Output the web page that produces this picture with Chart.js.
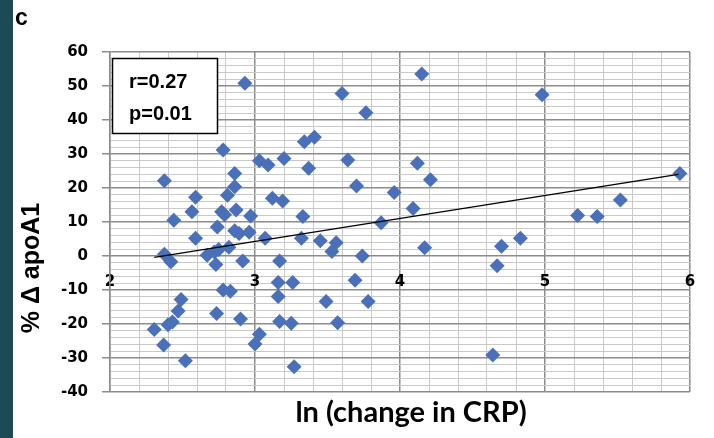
<!DOCTYPE html>
<html><head><meta charset="utf-8">
<script src="https://cdn.jsdelivr.net/npm/chart.js@4.4.1/dist/chart.umd.min.js"></script>
<style>
html,body{margin:0;padding:0;background:#fff;overflow:hidden;}
#wrap{position:relative;width:714px;height:438px;}
#strip{position:absolute;left:0;top:0;width:13px;height:438px;background:#1d4b55;}
canvas{position:absolute;left:0;top:0;}
</style></head><body>
<div id="wrap"><canvas id="c" width="714" height="438"></canvas><div id="strip"></div></div>
<script>
// ln(change in CRP)
const lnChangeCRP = [2.93, 2.78, 2.375, 3.03, 3.09, 3.20, 2.86, 2.86, 2.81, 2.59,
  3.12, 3.19, 2.565, 2.77, 2.79, 2.87, 2.97, 2.44, 2.74, 2.59,
  2.86, 2.89, 2.96, 3.07, 3.32, 2.375, 2.42, 2.67, 2.72, 2.75,
  2.73, 2.82, 2.915, 3.17, 3.16, 3.26, 3.16, 2.78, 2.83, 2.49,
  2.47, 2.735, 2.90, 3.17, 3.25, 2.305, 2.40, 2.43, 3.03, 3.00,
  2.37, 2.52, 3.27, 4.15, 3.60, 3.765, 3.34, 3.41, 3.37, 3.64,
  4.12, 4.21, 3.70, 3.96, 3.33, 4.09, 3.87, 3.45, 3.56, 3.53,
  3.74, 4.17, 3.69, 3.49, 3.78, 3.57, 4.98, 5.93, 5.52, 5.225,
  5.36, 4.83, 4.70, 4.67, 4.64];
// % delta apoA1
const pctDeltaApoA1 = [50.8, 31.2, 22.1, 28.0, 26.8, 28.7, 24.3, 20.4, 17.9, 17.3,
  17.0, 16.2, 13.0, 13.0, 12.1, 13.5, 11.8, 10.5, 8.5, 5.2,
  7.4, 6.6, 7.0, 5.2, 5.2, 0.5, -1.7, 0.2, 1.2, 1.9,
  -2.5, 2.6, -1.5, -1.5, -7.8, -7.8, -11.9, -10.0, -10.4, -12.8,
  -16.2, -16.9, -18.5, -19.3, -19.8, -21.6, -20.2, -19.4, -23.0, -25.9,
  -26.2, -30.8, -32.6, 53.5, 47.8, 42.1, 33.6, 34.9, 25.8, 28.2,
  27.3, 22.4, 20.6, 18.7, 11.6, 14.0, 9.8, 4.5, 3.9, 1.3,
  0, 2.4, -7.1, -13.4, -13.4, -19.6, 47.4, 24.3, 16.5, 11.9,
  11.6, 5.2, 2.9, -2.9, -29.1];
// trend line end points
const trendX = [2.305, 5.92];
const trendY = [-0.4, 24.0];
// tick labels
const xTickLabels = ['2', '3', '4', '5', '6'];
const yTickLabels = ['-40', '-30', '-20', '-10', '0', '10', '20', '30', '40', '50', '60'];
const statText = ['r=0.27', 'p=0.01'];
const xTitle = 'ln (change in CRP)';
const yTitle = '% \u0394 apoA1';
const panelLabel = 'c';

const scatterData = lnChangeCRP.map((x, i) => ({x: x, y: pctDeltaApoA1[i]}));
const trendData = trendX.map((x, i) => ({x: x, y: trendY[i]}));

const MAJOR = '#8c8c8c', MINOR = '#c9c9c9';
const isInt = v => Math.abs(v - Math.round(v)) < 1e-6;
const isTen = v => Math.abs(v / 10 - Math.round(v / 10)) < 1e-6;

const annot = {
  id: 'annot',
  afterDraw(chart) {
    const ctx = chart.ctx;
    ctx.save();
    // stats box
    ctx.fillStyle = '#fff';
    ctx.fillRect(112, 58, 105, 75);
    ctx.strokeStyle = '#000';
    ctx.lineWidth = 1.5;
    ctx.strokeRect(112.5, 58.5, 105, 75);
    ctx.fillStyle = '#000';
    ctx.font = 'bold 20px "Liberation Sans", Arial, sans-serif';
    ctx.textAlign = 'left';
    ctx.textBaseline = 'alphabetic';
    ctx.fillText(statText[0], 129, 88);
    ctx.fillText(statText[1], 129, 120);
    // panel label
    ctx.font = 'bold 23px "Liberation Sans", Arial, sans-serif';
    ctx.fillText(panelLabel, 15, 25);
    // x title
    ctx.font = 'bold 29px Lato, "Open Sans", sans-serif';
    ctx.textAlign = 'center';
    ctx.textBaseline = 'middle';
    ctx.fillText(xTitle, 411, 413);
    // y title
    ctx.translate(32, 268);
    ctx.rotate(-Math.PI / 2);
    ctx.font = 'bold 25px "Liberation Sans", Arial, sans-serif';
    ctx.fillText(yTitle, 0, 0);
    ctx.restore();
  }
};

new Chart(document.getElementById('c'), {
  type: 'scatter',
  data: {
    datasets: [
      {
        data: scatterData,
        pointStyle: 'rectRot',
        pointRadius: 7.5,
        pointHoverRadius: 7.5,
        backgroundColor: '#4a70b9',
        borderColor: '#4a70b9',
        borderWidth: 0,
        order: 2
      },
      {
        type: 'line',
        data: trendData,
        borderColor: '#000',
        borderWidth: 1.3,
        pointRadius: 0,
        fill: false,
        order: 1
      }
    ]
  },
  options: {
    responsive: false,
    animation: false,
    events: [],
    layout: {padding: {left: 0, right: 24, top: 52, bottom: 46}},
    plugins: {legend: {display: false}, tooltip: {enabled: false}},
    scales: {
      x: {
        type: 'linear',
        position: {y: 0},
        min: 2, max: 6,
        afterBuildTicks(scale) {
          const t = [];
          for (let i = 0; i <= 20; i++) t.push({value: 2 + i * 0.2});
          scale.ticks = t;
        },
        ticks: {
          autoSkip: false,
          maxRotation: 0,
          padding: 17,
          color: '#000',
          font: {family: '"DejaVu Sans", sans-serif', weight: 'bold', size: 15},
          callback: v => isInt(v) ? xTickLabels[Math.round(v) - 2] : ''
        },
        grid: {
          drawTicks: false,
          color: c => isInt(c.tick.value) ? MAJOR : MINOR,
          lineWidth: c => isInt(c.tick.value) ? 1.5 : 1
        },
        border: {display: false}
      },
      y: {
        type: 'linear',
        position: 'left',
        min: -40, max: 60,
        afterBuildTicks(scale) {
          const t = [];
          for (let i = 0; i <= 50; i++) t.push({value: -40 + i * 2});
          scale.ticks = t;
        },
        afterFit(scale) { scale.width = 110; },
        ticks: {
          autoSkip: false,
          padding: 14,
          color: '#000',
          font: {family: '"DejaVu Sans", sans-serif', weight: 'bold', size: 15},
          callback: v => isTen(v) ? yTickLabels[Math.round((v + 40) / 10)] : ''
        },
        grid: {
          drawTicks: true,
          tickLength: 8,
          color: c => isTen(c.tick.value) ? MAJOR : MINOR,
          tickColor: c => isTen(c.tick.value) ? MAJOR : 'rgba(0,0,0,0)',
          lineWidth: c => isTen(c.tick.value) ? 1.5 : 1
        },
        border: {display: true, color: MAJOR, width: 1.5}
      }
    }
  },
  plugins: [annot]
});
</script>
</body></html>
